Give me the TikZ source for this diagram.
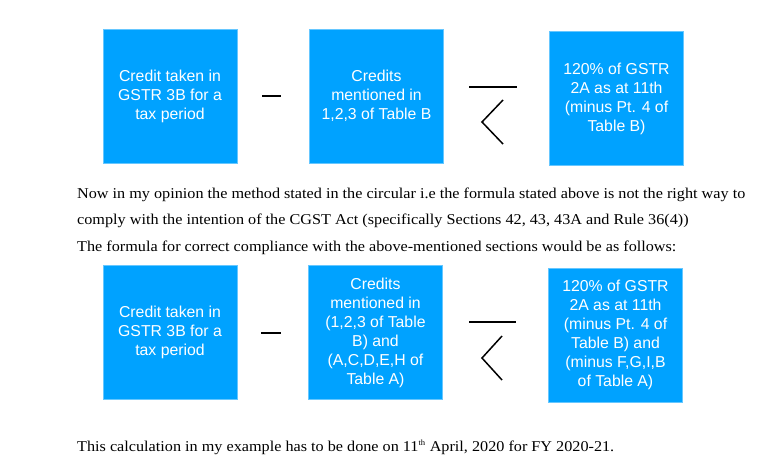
\documentclass[tikz,border=0pt]{standalone}
\usepackage{fontspec}
\setmainfont{Liberation Serif}[FakeStretch=1.08]
\setsansfont{Liberation Sans}
\usetikzlibrary{positioning}
\definecolor{gstblue}{RGB}{0,162,255}

\begin{document}
\begin{tikzpicture}[
  x=1pt,y=-1pt,
  box/.style={rectangle,fill=gstblue,draw=gstblue!60!white,line width=0.6pt,
    minimum width=134pt,minimum height=134pt,inner sep=2pt,
    text=white,align=center,font=\sffamily\fontsize{15.8}{19}\selectfont},
  para/.style={anchor=base west,inner sep=0pt,font=\fontsize{15}{17}\selectfont},
  op/.style={line width=2pt}
]
\useasboundingbox (0,0) rectangle (778,474);

% --- top row: formula from the circular ---
\node[box] (t1) at (170,96) {Credit taken in\\GSTR 3B for a\\tax period};
\node[box] (t2) at (376.5,96) {Credits\\mentioned in\\1,2,3 of Table B};
\node[box] (t3) at (616.5,98.5) {120\% of GSTR\\2A as at 11th\\(minus Pt. 4 of\\Table B)};
\draw[op] (262,96) -- (281,96);
\draw[op] (469,87) -- (517,87);
\draw[line width=1.5pt] (503,100) -- (482,122) -- (503,144);

% --- text ---
\node[para] (p1) at (77,198) {Now in my opinion the method stated in the circular i.e the formula stated above is not the right way to};
\node[para] (p2) at (77,224.5) {comply with the intention of the CGST Act (specifically Sections 42, 43, 43A and Rule 36(4))};
\node[para] (p3) at (77,251) {The formula for correct compliance with the above-mentioned sections would be as follows:};

% --- bottom row: corrected formula ---
\node[box] (b1) at (170,332.5) {Credit taken in\\GSTR 3B for a\\tax period};
\node[box] (b2) at (375.5,332.5) {Credits\\mentioned in\\(1,2,3 of Table\\B) and\\(A,C,D,E,H of\\Table A)};
\node[box] (b3) at (615.5,335) {120\% of GSTR\\2A as at 11th\\(minus Pt. 4 of\\Table B) and\\(minus F,G,I,B\\of Table A)};
\draw[op] (261,333) -- (281,333);
\draw[op] (469,322) -- (516,322);
\draw[line width=1.5pt] (502,336) -- (482,358) -- (502,380);

\node[para] (p4) at (77,451) {This calculation in my example has to be done on 11\textsuperscript{\footnotesize th} April, 2020 for FY 2020-21.};
\end{tikzpicture}
\end{document}
